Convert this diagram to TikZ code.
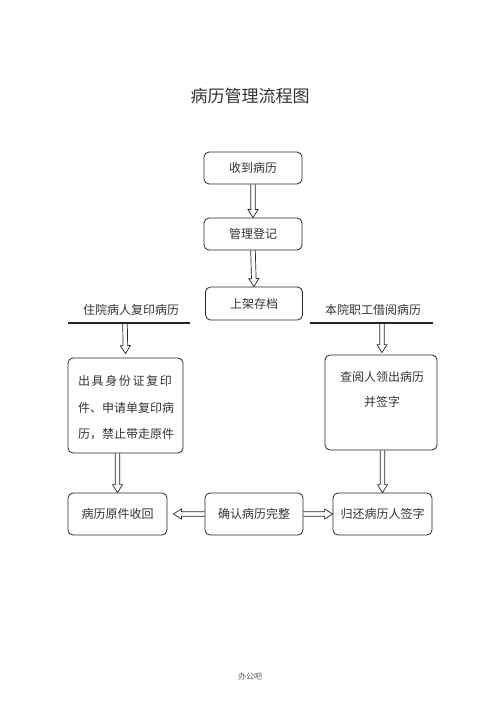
\documentclass[tikz,border=0pt]{standalone}
\usepackage{fontspec}
\setmainfont{Noto Sans CJK SC}
\usetikzlibrary{calc}
\definecolor{ink}{HTML}{333333}
\newcommand\hollowarrow[2]{%
  \coordinate (hb) at ($(#2)!8pt!(#1)$);
  \draw[harrow] ($(#1)!2.3pt!90:(#2)$) -- ($(hb)!2.3pt!90:(#2)$) -- ($(hb)!5pt!90:(#2)$) -- (#2)
    -- ($(hb)!5pt!-90:(#2)$) -- ($(hb)!2.3pt!-90:(#2)$) -- ($(#1)!2.3pt!-90:(#2)$);}
\newcommand\spreadline[1]{\makebox[94pt][s]{#1}}
\begin{document}
\begin{tikzpicture}[x=1pt,y=-1pt,
  box/.style={draw=black!85, rounded corners=5pt, line width=0.8pt, inner sep=0pt,
    text=ink, font=\fontsize{12}{14}\selectfont},
  txt/.style={text=ink, inner sep=0pt, font=\fontsize{12}{14}\selectfont},
  harrow/.style={draw=black!85, line width=0.7pt, line join=miter},
  rule/.style={draw=black!85, line width=1.4pt}]
\useasboundingbox (0,0) rectangle (500,708);
\node[text=ink, font=\fontsize{17}{20}\selectfont] (title) at (250,96) {病历管理流程图};
\node[box, minimum width=98pt, minimum height=32pt] (b1) at (253,168) {收到病历};
\node[box, minimum width=98pt, minimum height=32pt] (b2) at (253,234) {管理登记};
\node[box, minimum width=97pt, minimum height=33pt] (b3) at (254,303.5) {上架存档};
\node[txt] (hl) at (131,310) {住院病人复印病历};
\node[txt] (hr) at (373,310) {本院职工借阅病历};
\coordinate (l1) at (68,323); \coordinate (l2) at (190,323);
\coordinate (r1) at (310,323); \coordinate (r2) at (433,323);
\draw[rule] (l1) -- (l2);
\draw[rule] (r1) -- (r2);
\node[box, minimum width=115pt, minimum height=95pt] (lb) at (125.5,405.5) {};
\node[txt] (lt1) at (125,381) {\spreadline{出\hfill 具\hfill 身\hfill 份\hfill 证\hfill 复\hfill 印}};
\node[txt] (lt2) at (125,408) {\spreadline{件\hfill 、\hfill 申\hfill 请\hfill 单\hfill 复\hfill 印\hfill 病}};
\node[txt] (lt3) at (125,434) {\spreadline{历\hfill ，\hfill 禁\hfill 止\hfill 带\hfill 走\hfill 原\hfill 件}};
\node[box, minimum width=112pt, minimum height=95pt] (rb) at (381,402.5) {};
\node[txt] (rt1) at (382,377) {查阅人领出病历};
\node[txt] (rt2) at (382,402) {并签字};
\node[box, minimum width=99pt, minimum height=42pt] (b4) at (117.5,514) {病历原件收回};
\node[box, minimum width=98pt, minimum height=42pt] (b5) at (254,514) {确认病历完整};
\node[box, minimum width=99pt, minimum height=42pt] (b6) at (382.5,514) {归还病历人签字};
\node[text=ink!80, inner sep=0pt, font=\fontsize{8}{10}\selectfont] (foot) at (250,676) {办公吧};
\coordinate (la) at (125,323); \coordinate (lat) at ($(lb.north)+(0,-4)$);
\coordinate (ra) at (382,323); \coordinate (rat) at ($(rb.north)+(1,-2)$);
\hollowarrow{b1.south}{b2.north}
\hollowarrow{b2.south}{b3.north}
\hollowarrow{la}{lat}
\hollowarrow{ra}{rat}
\hollowarrow{b4.north |- lb.south}{b4.north}
\hollowarrow{b6.north |- rb.south}{b6.north}
\coordinate (b4e) at ($(b4.east)+(6,0)$);
\hollowarrow{b5.west}{b4e}
\hollowarrow{b5.east}{b6.west}
\end{tikzpicture}
\end{document}
